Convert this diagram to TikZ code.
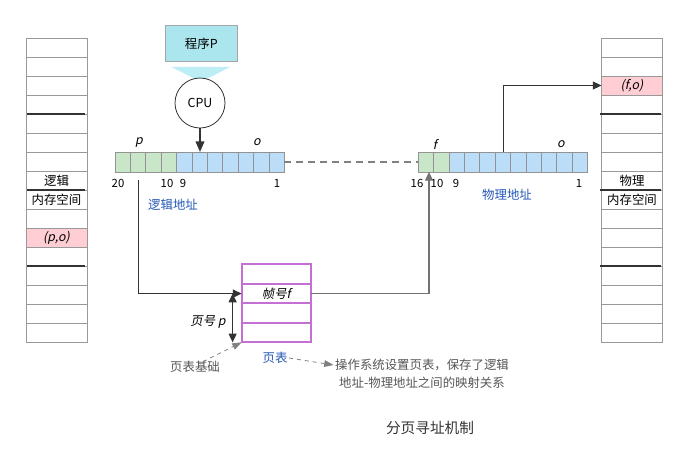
\documentclass[tikz,border=0pt]{standalone}
\usepackage{fontspec}
\setmainfont{Noto Sans CJK SC}[ItalicFont=Noto Sans CJK SC,ItalicFeatures={FakeSlant=0.2}]
\usetikzlibrary{arrows.meta,calc}
\definecolor{cellgreen}{HTML}{C9E6C9}
\definecolor{cellblue}{HTML}{BCDDF7}
\definecolor{cellpink}{HTML}{FFCDD4}
\definecolor{progcyan}{HTML}{ABE6EE}
\definecolor{flowcyan}{HTML}{BDEDF5}
\definecolor{ptpurple}{HTML}{C36FD3}
\definecolor{labelblue}{HTML}{2358B5}
\definecolor{notegray}{HTML}{555555}
\definecolor{darkline}{HTML}{333333}
\tikzset{
  memcell/.style={draw=gray!80,line width=.6pt,minimum width=45.75pt,minimum height=14.25pt,inner sep=0pt,outer sep=0pt},
  regcell/.style={draw=gray!85,line width=.7pt,minimum width=11.55pt,minimum height=15pt,inner sep=0pt,outer sep=0pt},
  ptcell/.style={draw=ptpurple,line width=1.4pt,minimum width=52pt,minimum height=14.6pt,inner sep=0pt,outer sep=0pt},
  sepline/.style={darkline,line width=1.4pt},
  fwd/.style={-{Triangle[length=6.5pt,width=6pt]}},
  graytip/.style={-{Triangle[length=7pt,width=5pt]}},
  txt/.style={font=\fontsize{9.3}{11}\selectfont,inner sep=1pt},
  num/.style={font=\fontsize{8.5}{10}\selectfont,inner sep=1pt}
}
\begin{document}
\begin{tikzpicture}[x=.75pt,y=-.75pt,txt]
\useasboundingbox (0,0) rectangle (687,465);
% logical memory
\foreach \i in {0,...,15} \node[memcell] (lm\i) at (56.5,47.5+19*\i) {};
\node[memcell] (lm7) at (lm7) {逻辑};
\node[memcell] (lm8) at (lm8) {内存空间};
\node[memcell,fill=cellpink] (lm10) at (lm10) {\itshape (p,o)};
\foreach \i in {3,7,11} \draw[sepline] ([xshift=.75pt]lm\i.south west) -- ([xshift=-1.5pt]lm\i.south east);
% physical memory
\foreach \i in {0,...,15} \node[memcell] (rm\i) at (632,47.5+19*\i) {};
\node[memcell,fill=cellpink] (rm2) at (rm2) {\itshape (f,o)};
\node[memcell] (rm7) at (rm7) {物理};
\node[memcell] (rm8) at (rm8) {内存空间};
\foreach \i in {3,7,11} \draw[sepline] ([xshift=-1.5pt]rm\i.south west) -- ([xshift=-1.5pt]rm\i.south east);
% program and cpu
\node[draw=gray!70,fill=progcyan,minimum width=54.5pt,minimum height=27.5pt] (prog) at (201.3,43.3) {程序P};
\fill[flowcyan] ($(prog.south)+(-30,5)$) -- ($(prog.south)+(29,5)$) -- ($(prog.south)+(-.5,20)$) -- cycle;
\node[circle,draw=darkline,line width=.6pt,fill=white,minimum size=37.5pt,inner sep=0pt] (cpu) at (200,103) {CPU};
% logical address
\foreach \i in {0,...,3} \node[regcell,fill=cellgreen] (l\i) at (122.7+15.4*\i,162) {};
\foreach \i in {4,...,10} \node[regcell,fill=cellblue] (l\i) at (122.7+15.4*\i,162) {};
\node (lp) at (139,142) {\itshape p};\node (lo) at (257,142) {\itshape o};
\node[num] (l20) at (118,183) {20};\node[num] (l10n) at (167,183) {10};
\node[num] (l9n) at (183,183) {9};\node[num] (l1n) at (277,183) {1};
\node[text=labelblue] (laddr) at (173,205) {逻辑地址};
% physical address
\foreach \i in {0,1} \node[regcell,fill=cellgreen] (r\i) at (426+15.4*\i,162) {};
\foreach \i in {2,...,10} \node[regcell,fill=cellblue] (r\i) at (426+15.4*\i,162) {};
\node (rf) at (435,144) {\itshape f};\node (ro) at (561,144) {\itshape o};
\node[num] (r16n) at (417,183) {16};\node[num] (r10n) at (437,183) {10};
\node[num] (r9n) at (456,183) {9};\node[num] (r1n) at (579,183) {1};
\node[text=labelblue] (raddr) at (507,195) {物理地址};
% page table
\foreach \i in {0,...,3} \node[ptcell] (pt\i) at (276.3,274.1+19.5*\i) {};
\node[ptcell] (pt1) at (pt1) {\itshape 帧号f};
\node[text=labelblue] (ptlabel) at (275,358) {页表};
\node (pnum) at (208,322) {\itshape 页号 p};
\node[text=notegray] (ptbase) at (195,367) {页表基础};
\node[text=notegray] (note1) at (422,365) {操作系统设置页表，保存了逻辑};
\node[text=notegray] (note2) at (422,383) {地址-物理地址之间的映射关系};
\node[font=\fontsize{11}{13}\selectfont,text=darkline] (title) at (430,428) {分页寻址机制};
% connectors
\draw[darkline,line width=1.3pt,-{Triangle[length=8pt,width=6.5pt]}] (cpu.south) -- (cpu.south |- l5.north);
\draw[gray,line width=.8pt,dash pattern=on 5pt off 4pt] (l10.east) -- (r0.west);
\draw[darkline,line width=.7pt,fwd] (r5.north) |- (rm2.west);
\coordinate (la) at ($(l1.south)+(0,8)$);
\draw[darkline,line width=.7pt,fwd] (la) |- (pt1.west);
\draw[gray!90!black,line width=.8pt,fwd] (pt1.east) -| ([xshift=2.25pt]r0.south);
\draw[darkline,line width=.7pt,{Triangle[length=6.5pt,width=6pt]}-{Triangle[length=6.5pt,width=6pt]}] ([xshift=-6.75pt]pt1.west) -- ([xshift=-6.75pt]pt3.south west);
\draw[gray,line width=.6pt,dashed,graytip] ($(ptbase.north)+(8,2)$) -- (pt3.south west);
\draw[gray,line width=.6pt,dashed,graytip] (ptlabel.east) -- (note1.west);
\end{tikzpicture}
\end{document}
